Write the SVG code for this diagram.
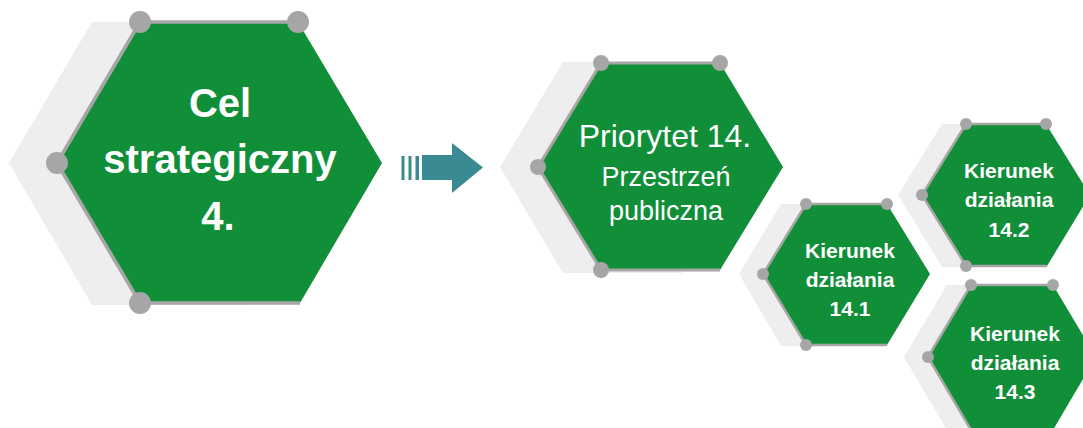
<svg xmlns="http://www.w3.org/2000/svg" width="1083" height="428" viewBox="0 0 1083 428">
  <style>
    .shadow { fill: #eeeeee; }
    .hex { fill: #108e38; }
    .edge { fill: none; stroke: #a6a6a6; stroke-linejoin: round; }
    .dot { fill: #a6a6a6; }
    .t { fill: #ffffff; text-anchor: middle; font-family: "Liberation Sans", Arial, sans-serif; }
    .b { font-weight: bold; }
    .arrow { fill: #3a8a93; }
  </style>
  <rect width="1083" height="428" fill="#ffffff"/>

  <g id="node-cel">
    <polygon class="shadow" points="92,22 250,22 334,163 252,305 92,305 9,163"/>
    <polygon class="hex" points="140,22 298,22 382,163 300,303 140,303 57,163"/>
    <polyline class="edge" stroke-width="3.5" points="298,22 140,22 57,163 140,303 300,303"/>
    <circle class="dot" cx="140" cy="22" r="11"/>
    <circle class="dot" cx="298" cy="22" r="11"/>
    <circle class="dot" cx="57" cy="163" r="11"/>
    <circle class="dot" cx="140" cy="303" r="11"/>
    <text class="t b" font-size="40" x="220" y="117">Cel</text>
    <text class="t b" font-size="40" x="220" y="173">strategiczny</text>
    <text class="t b" font-size="40" x="218" y="230">4.</text>
  </g>

  <g id="connectors">
    <rect class="arrow" x="401.5" y="156" width="3" height="24"/>
    <rect class="arrow" x="408.5" y="156" width="3" height="24"/>
    <rect class="arrow" x="415.5" y="156" width="3.5" height="24"/>
    <polygon class="arrow" points="422,155 452,155 452,143 483,167.5 452,193 452,180 422,180"/>
  </g>

  <g id="node-priorytet">
    <polygon class="shadow" points="563,62 682,62 745,167 682,273 563,273 500,167"/>
    <polygon class="hex" points="601,63 720,63 783,167 720,270 601,270 538,167"/>
    <polyline class="edge" stroke-width="3" points="720,63 601,63 538,167 601,270 720,270"/>
    <circle class="dot" cx="601" cy="63" r="8"/>
    <circle class="dot" cx="720" cy="63" r="8"/>
    <circle class="dot" cx="538" cy="167" r="8"/>
    <circle class="dot" cx="601" cy="270" r="8"/>
    <text class="t" font-size="32" x="665" y="147">Priorytet 14.</text>
    <text class="t" font-size="27" x="666" y="186">Przestrzeń</text>
    <text class="t" font-size="27" x="666" y="220">publiczna</text>
  </g>

  <g id="node-kierunek-14-1">
    <polygon class="shadow" points="781,204 862,204 906,274 862,346 781,346 739,274"/>
    <polygon class="hex" points="806,204 887,204 930,274 887,345 806,345 763,274"/>
    <polyline class="edge" stroke-width="2.5" points="887,204 806,204 763,274 806,345 887,345"/>
    <circle class="dot" cx="806" cy="204" r="6"/>
    <circle class="dot" cx="887" cy="204" r="6"/>
    <circle class="dot" cx="763" cy="274" r="6"/>
    <circle class="dot" cx="806" cy="345" r="6"/>
    <text class="t b" font-size="21" x="850" y="258">Kierunek</text>
    <text class="t b" font-size="21" x="850" y="287">działania</text>
    <text class="t b" font-size="21" x="850" y="316">14.1</text>
  </g>

  <g id="node-kierunek-14-2">
    <polygon class="shadow" points="942,124 1022,124 1066,195 1022,267 942,267 898,195"/>
    <polygon class="hex" points="966,124 1046,124 1090,195 1047,266 966,266 922,195"/>
    <polyline class="edge" stroke-width="2.5" points="1046,124 966,124 922,195 966,266 1047,266"/>
    <circle class="dot" cx="966" cy="124" r="6"/>
    <circle class="dot" cx="1046" cy="124" r="6"/>
    <circle class="dot" cx="922" cy="195" r="6"/>
    <circle class="dot" cx="966" cy="266" r="6"/>
    <text class="t b" font-size="21" x="1009" y="178">Kierunek</text>
    <text class="t b" font-size="21" x="1009" y="207">działania</text>
    <text class="t b" font-size="21" x="1009" y="237">14.2</text>
  </g>

  <g id="node-kierunek-14-3">
    <polygon class="shadow" points="947,285 1029,285 1072,357 1029,430 947,430 904,357"/>
    <polygon class="hex" points="971,285 1053,285 1096,357 1053,430 971,430 928,357"/>
    <polyline class="edge" stroke-width="2.5" points="1053,285 971,285 928,357 971,430"/>
    <circle class="dot" cx="971" cy="285" r="6"/>
    <circle class="dot" cx="1053" cy="285" r="6"/>
    <circle class="dot" cx="928" cy="357" r="6"/>
    <text class="t b" font-size="21" x="1015" y="341">Kierunek</text>
    <text class="t b" font-size="21" x="1015" y="370">działania</text>
    <text class="t b" font-size="21" x="1015" y="399">14.3</text>
  </g>
</svg>
